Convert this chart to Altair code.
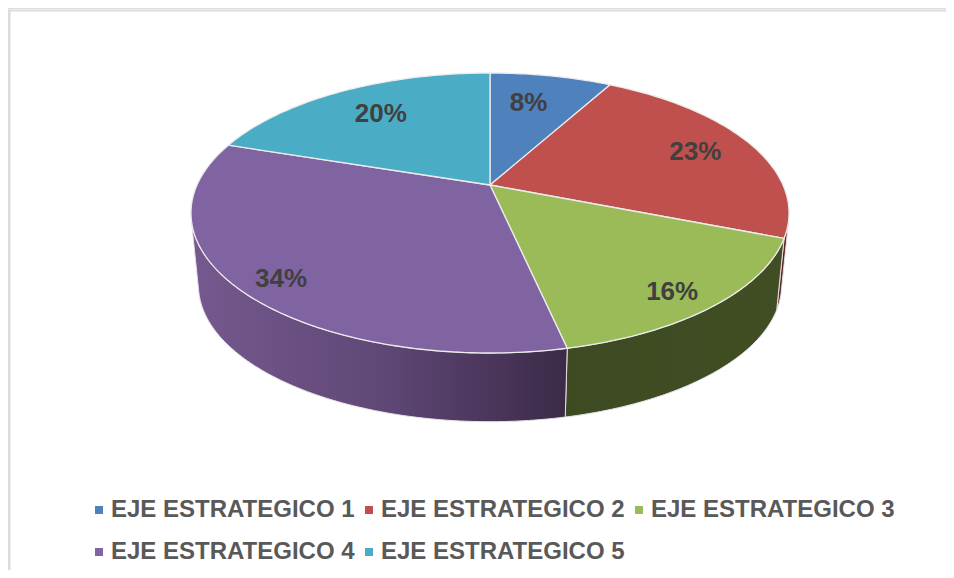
import math
import altair as alt
import pandas as pd

CATEGORIES = ["EJE ESTRATEGICO 1", "EJE ESTRATEGICO 2", "EJE ESTRATEGICO 3",
              "EJE ESTRATEGICO 4", "EJE ESTRATEGICO 5"]
VALUES = [8.0, 23.0, 15.6, 33.5, 19.9]
LABELS = ["8%", "23%", "16%", "34%", "20%"]
COLORS = ["#4F81BD", "#C0504D", "#9BBB59", "#8064A2", "#4BACC6"]
# label placement: radius on the disc, position along the slice
LABEL_POS = [(0.71, 0.424), (0.78, 0.507), (0.87, 0.54), (0.875, 0.48), (0.727, 0.511)]

CX, CY, A, B, K = 490.0, 185.0, 293.0, 134.4, 0.2
S, DY = 0.975, 77.5


def top(frac, r=1.0):
    t = 2 * math.pi * frac
    u, v = r * math.sin(t), r * math.cos(t)
    d = 1 + K * v
    return CX + A * u / d, CY - B * v / d


def low(p):
    return CX + S * (p[0] - CX), S * p[1] + DY


X = alt.X("x:Q", axis=None, scale=alt.Scale(domain=[8, 946], nice=False, zero=False))
Y = alt.Y("y:Q", axis=None, scale=alt.Scale(domain=[570, 8], nice=False, zero=False))
ORDER = alt.Order("i:Q")


def poly(points):
    pts = list(points) + [points[0]]
    return pd.DataFrame({"x": [p[0] for p in pts], "y": [p[1] for p in pts], "i": range(len(pts))})


SIDE_FILL = [
    "#2f4a6e", "#5e2725",
    alt.Gradient(gradient="linear", x1=0, x2=1, y1=0, y2=0,
                 stops=[alt.GradientStop(offset=0, color="#3e4b22"),
                        alt.GradientStop(offset=1, color="#414e24")]),
    alt.Gradient(gradient="linear", x1=0, x2=1, y1=0, y2=0,
                 stops=[alt.GradientStop(offset=0, color="#76598f"),
                        alt.GradientStop(offset=0.5, color="#5f4876"),
                        alt.GradientStop(offset=1, color="#3b2a48")]),
    "#2a6070",
]

starts = []
acc = 0.0
for v in VALUES:
    starts.append(acc / 100)
    acc += v
ends = starts[1:] + [1.0]

# part of the rim that faces the viewer
visible = []
for j in range(1000):
    f = j / 1000
    p, q = top(f), top(f + 0.001)
    e = low(p)
    if (q[0] - p[0]) * (e[1] - p[1]) - (q[1] - p[1]) * (e[0] - p[0]) < 0:
        visible.append(f)
vis_lo, vis_hi = min(visible), max(visible)

layers = []

border = pd.DataFrame({"x": [9, 9.5], "x2": [946, 9.5], "y": [10.5, 10], "y2": [10.5, 570]})
layers.append(
    alt.Chart(border).mark_rule(color="#dcdcdc", strokeWidth=2).encode(
        x=X, x2="x2:Q", y=Y, y2="y2:Q"
    )
)

# legend carrier, hidden under the pie
legend_df = pd.DataFrame({"cat": CATEGORIES, "x": [CX] * 5, "y": [CY] * 5})
layers.append(
    alt.Chart(legend_df).mark_square(size=1, opacity=1).encode(
        x=X, y=Y,
        color=alt.Color(
            "cat:N",
            scale=alt.Scale(domain=CATEGORIES, range=COLORS),
            legend=alt.Legend(
                title=None, orient="none", legendX=79, legendY=490, columns=3,
                direction="horizontal",
                symbolType="square", symbolSize=64, symbolStrokeWidth=0,
                labelFont="Liberation Sans", labelFontSize=24, labelFontWeight="bold",
                labelColor="#595959", labelLimit=400, labelOffset=0,
                rowPadding=18, columnPadding=2, gridAlign="each",
            ),
        ),
    )
)

# walls, back to front
for i in [1, 2, 3]:
    a, b = max(starts[i], vis_lo), min(ends[i], vis_hi)
    if b <= a:
        continue
    n = max(2, int((b - a) * 360))
    arc = [top(a + (b - a) * j / n) for j in range(n + 1)]
    df = poly(arc + [low(p) for p in reversed(arc)])
    layers.append(
        alt.Chart(df).mark_line(fill=SIDE_FILL[i], stroke="#e4e0e4", strokeWidth=1, interpolate="linear").encode(
            x=X, y=Y, order=ORDER
        )
    )

# top faces
for i in range(5):
    n = max(2, int((ends[i] - starts[i]) * 360))
    arc = [top(starts[i] + (ends[i] - starts[i]) * j / n) for j in range(n + 1)]
    df = poly([(CX, CY)] + arc)
    layers.append(
        alt.Chart(df).mark_line(fill=COLORS[i], stroke="#ececec", strokeWidth=1.3, interpolate="linear").encode(
            x=X, y=Y, order=ORDER
        )
    )

# percentage labels
lab_x, lab_y = [], []
for i in range(5):
    r, pos = LABEL_POS[i]
    px, py = top(starts[i] + (ends[i] - starts[i]) * pos, r)
    lab_x.append(px)
    lab_y.append(py)
lab_df = pd.DataFrame({"x": lab_x, "y": lab_y, "t": LABELS})
layers.append(
    alt.Chart(lab_df).mark_text(
        font="Liberation Sans", fontSize=26, fontWeight="bold", color="#404040"
    ).encode(x=X, y=Y, text="t:N")
)

chart = alt.layer(*layers).properties(
    width=938, height=562, padding=0, autosize=alt.AutoSizeParams(type="none")
).configure_view(stroke=None).configure(background="white")

chart.save("out.html", embed_options={"renderer": "svg", "actions": False})
